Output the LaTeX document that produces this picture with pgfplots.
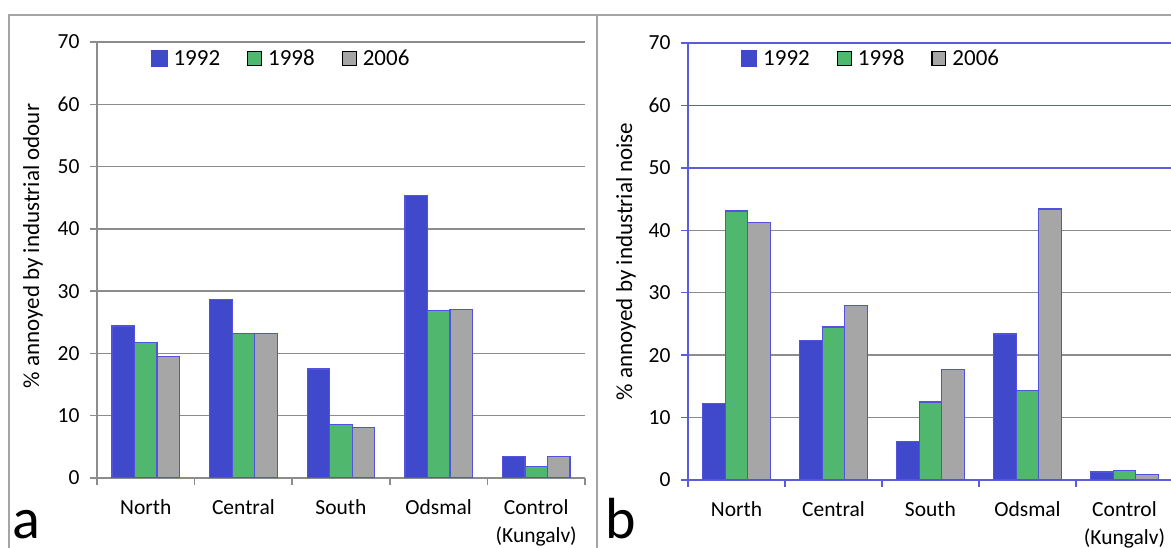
\documentclass[border=0pt]{standalone}
\usepackage{pgfplots}
\usepackage{pgfplotstable}
\pgfplotsset{compat=1.18}
\usepackage{fontspec}
\setmainfont{Carlito}
\definecolor{cblue}{RGB}{64,72,204}
\definecolor{cgreen}{RGB}{80,184,110}
\definecolor{cgray}{RGB}{166,166,166}
\definecolor{cedge}{RGB}{82,82,222}
\definecolor{cgrid}{RGB}{140,140,140}
\definecolor{cbline}{RGB}{92,92,218}
\definecolor{cframe}{RGB}{165,165,165}
\newcommand\tickfont{\fontsize{21.5}{28}\selectfont}
\newcommand\labfont{\fontsize{23}{27}\selectfont}
\newcommand\legfont{\fontsize{23}{27}\selectfont}

\pgfplotstableread{
x y92 y98 y06
0 24.4 21.8 19.5
1 28.7 23.2 23.2
2 17.5 8.6 8.1
3 45.3 26.9 27.1
4 3.4 1.9 3.5
}\odour
\pgfplotstableread{
x y92 y98 y06
0 12.3 43.1 41.2
1 22.3 24.5 27.9
2 6.2 12.5 17.7
3 23.4 14.3 43.4
4 1.3 1.55 0.9
}\noise

\pgfplotsset{
  common/.style={
    scale only axis,
    ybar=0pt,
    bar width=22.5pt,
    xmin=-0.5, xmax=4.5,
    ymin=0, ymax=70,
    axis x line*=bottom,
    axis y line*=left,
    tick align=outside,
    major tick length=7pt,
    xtick={-0.5,0.5,1.5,2.5,3.5,4.5},
    xticklabels={},
    extra x ticks={0,1,2,3,4},
    extra x tick labels={North,Central,South,Odsmal,{Control\\(Kungalv)}},
    extra x tick style={major tick length=0pt},
    xticklabel style={font=\tickfont, align=center, anchor=north, inner sep=0pt, yshift=-21pt},
    yticklabel style={font=\tickfont, xshift=-7pt},
    /pgf/number format/assume math mode=true,
    ymajorgrids,
    axis line style={line width=1.5pt},
    every tick/.style={line width=1.5pt},
    major grid style={line width=1.5pt},
    legend columns=3,
    legend cell align=left,
    legend style={draw=none, fill=none, font=\legfont, inner sep=0pt,
      nodes={inner sep=0pt},
      /tikz/every odd column/.append style={column sep=6pt},
      /tikz/every even column/.append style={column sep=27pt}},
    ylabel style={font=\labfont, anchor=center},
  },
  b92/.style={fill=cblue, draw=cedge, line width=1.3pt,
    legend image code/.code={\fill[cblue] (0pt,-7.5pt) rectangle (15pt,7.5pt);}},
  b98/.style={fill=cgreen, draw=cedge, line width=1.3pt,
    legend image code/.code={\filldraw[fill=cgreen, draw=black, line width=1.2pt] (0.6pt,-6.9pt) rectangle (14.4pt,6.9pt);}},
  b06/.style={fill=cgray, draw=cedge, line width=1.3pt,
    legend image code/.code={\filldraw[fill=cgray, draw=black, line width=1.2pt] (0.6pt,-6.9pt) rectangle (14.4pt,6.9pt);}},
}

\begin{document}
\begin{tikzpicture}[x=1pt,y=1pt]
\useasboundingbox (0,0) rectangle (1171,548);
\clip (0,0) rectangle (1171,548);

% panel a
\begin{axis}[common,
  at={(97pt,70pt)}, anchor=south west,
  width=488pt, height=436pt,
  ytick={0,10,...,70},
  axis line style={draw=cgrid},
  every tick/.append style={draw=cgrid},
  major grid style={draw=cgrid},
  ylabel={\% annoyed by industrial odour},
  ylabel style={at={(axis description cs:-0.131,0.532)}},
  legend style={at={(axis description cs:0.1107,0.962)}, anchor=west},
]
\addplot[b92] table[x=x,y=y92]{\odour};
\addplot[b98] table[x=x,y=y98]{\odour};
\addplot[b06] table[x=x,y=y06]{\odour};
\legend{1992,1998,2006}
\end{axis}

% panel b
\begin{axis}[common,
  at={(688pt,68pt)}, anchor=south west,
  width=485pt, height=437pt,
  ytick={0,10,...,40},
  extra y ticks={50,60,70},
  extra y tick style={major grid style={draw=cbline, line width=1.5pt}},
  axis line style={draw=cbline},
  every tick/.append style={draw=cbline},
  major grid style={draw=cgrid},
  ylabel={\% annoyed by industrial noise},
  ylabel style={at={(axis description cs:-0.128,0.5)}},
  legend style={at={(axis description cs:0.1087,0.9645)}, anchor=west},
]
\addplot[b92] table[x=x,y=y92]{\noise};
\addplot[b98] table[x=x,y=y98]{\noise};
\addplot[b06] table[x=x,y=y06]{\noise};
\legend{1992,1998,2006}
\end{axis}

% frame
\draw[cframe, line width=2.5pt] (9,-10) -- (9,533) -- (1180,533);
\draw[cframe, line width=2.5pt] (597,-10) -- (597,533);

\node[anchor=base west, inner sep=0pt, font=\fontsize{58}{60}\selectfont] at (12,9) {a};
\node[anchor=base west, inner sep=0pt, font=\fontsize{58}{60}\selectfont] at (605,9) {b};
\end{tikzpicture}
\end{document}
